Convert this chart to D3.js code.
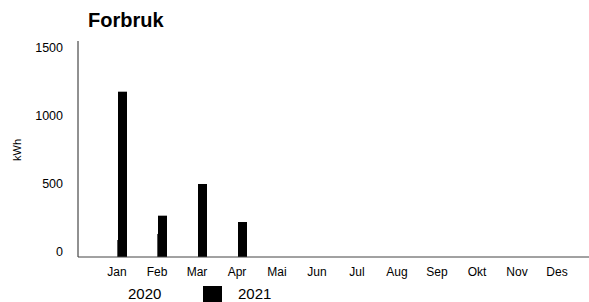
<!DOCTYPE html>
<html>
<head>
<meta charset="utf-8">
<script src="https://cdn.jsdelivr.net/npm/d3@7"></script>
<style>
  body { margin: 0; background: #fff; }
  text { font-family: "Liberation Sans", Arial, sans-serif; fill: #000; }
</style>
</head>
<body>
<script>
// données
const months = ["Jan", "Feb", "Mar", "Apr", "Mai", "Jun", "Jul", "Aug", "Sep", "Okt", "Nov", "Des"];
const series = ["2020", "2021"];
const values2020 = [118, 160, null, null, null, null, null, null, null, null, null, null];
const values2021 = [1148, 287, 507, 243, null, null, null, null, null, null, null, null];
const yTicks = [0, 500, 1000, 1500];

const width = 589, height = 302;

const svg = d3.select("body").append("svg")
    .attr("width", width)
    .attr("height", height);

// échelles
const x = d3.scaleBand()
    .domain(months)
    .range([97, 577]);

const y = d3.scaleLinear()
    .domain([0, 1500])
    .range([257, 41]);

// les libellés de l'axe y sont un peu décalés dans l'original
const yLabel = d3.scaleLinear()
    .domain([0, 1500])
    .range([252, 48]);

// titre
svg.append("text")
    .attr("x", 88)
    .attr("y", 27)
    .style("font-size", "20px")
    .style("font-weight", "bold")
    .text("Forbruk");

// axe y
svg.append("line")
    .attr("x1", 78).attr("x2", 78)
    .attr("y1", y(1500)).attr("y2", y(0))
    .style("stroke", "#222");

svg.selectAll(".ylab")
    .data(yTicks)
    .enter()
    .append("text")
    .attr("class", "ylab")
    .attr("x", 63)
    .attr("y", d => yLabel(d))
    .attr("dy", "0.35em")
    .attr("text-anchor", "end")
    .style("font-size", "12.5px")
    .text(d => d);

svg.append("text")
    .attr("transform", "translate(21," + 150 + ") rotate(-90)")
    .attr("text-anchor", "middle")
    .style("font-size", "11px")
    .text("kWh");

// barres 2021
svg.selectAll(".bar2021")
    .data(months.map((m, i) => ({ m, v: values2021[i] })).filter(d => d.v != null))
    .enter()
    .append("rect")
    .attr("class", "bar2021")
    .attr("x", d => x(d.m) + x.bandwidth() / 2 + 1)
    .attr("y", d => y(d.v))
    .attr("width", 9)
    .attr("height", d => y(0) - y(d.v))
    .style("fill", "#000");

// barres 2020 (très fines, presque invisibles)
svg.selectAll(".bar2020")
    .data(months.map((m, i) => ({ m, v: values2020[i] })).filter(d => d.v != null))
    .enter()
    .append("rect")
    .attr("class", "bar2020")
    .attr("x", d => x(d.m) + x.bandwidth() / 2)
    .attr("y", d => y(d.v))
    .attr("width", 1)
    .attr("height", d => y(0) - y(d.v))
    .style("fill", "#555");

// axe x
svg.append("line")
    .attr("x1", 78).attr("x2", 589)
    .attr("y1", y(0)).attr("y2", y(0))
    .style("stroke", "#444");

svg.selectAll(".xlab")
    .data(months)
    .enter()
    .append("text")
    .attr("class", "xlab")
    .attr("x", d => x(d) + x.bandwidth() / 2)
    .attr("y", 276)
    .attr("text-anchor", "middle")
    .style("font-size", "12px")
    .text(d => d);

// légende
const legend = svg.selectAll(".legend")
    .data(series)
    .enter()
    .append("g")
    .attr("class", "legend")
    .attr("transform", (d, i) => "translate(" + (93 + i * 110) + ",286)");

legend.append("rect")
    .attr("x", 0)
    .attr("y", 0)
    .attr("width", 19)
    .attr("height", 16)
    .style("fill", d => d === "2021" ? "#000" : "#fff");

legend.append("text")
    .attr("x", 35)
    .attr("y", 13)
    .style("font-size", "15px")
    .text(d => d);
</script>
</body>
</html>
